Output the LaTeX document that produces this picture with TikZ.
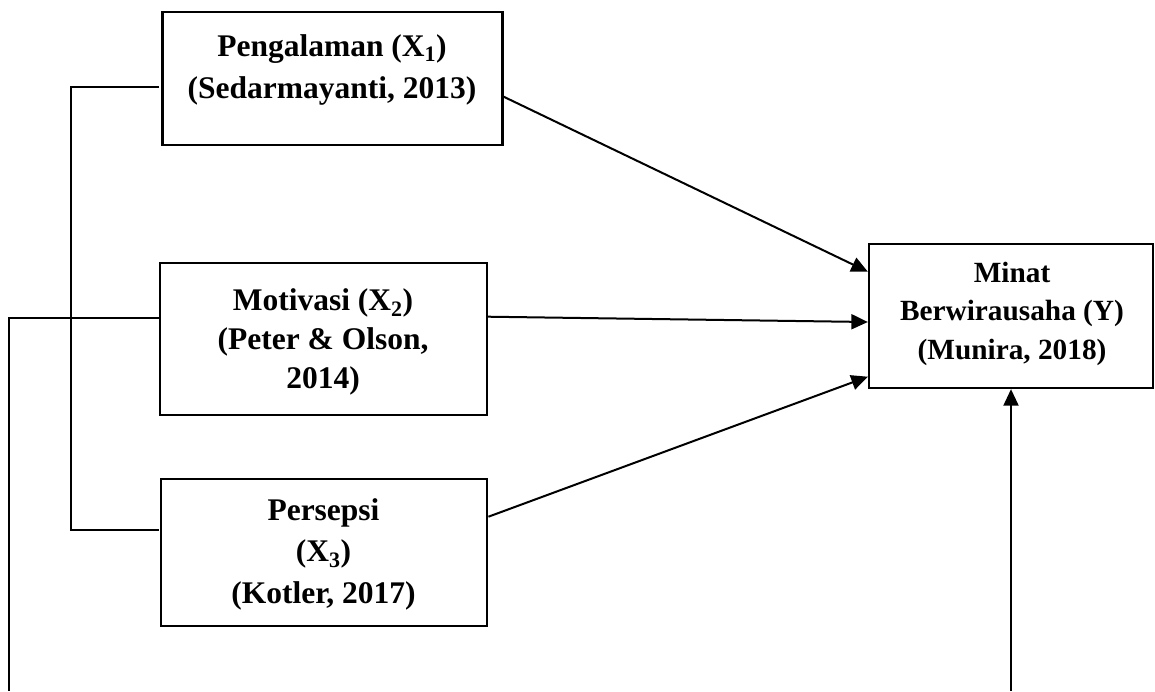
\documentclass[tikz,border=0pt]{standalone}
\usepackage{fontspec}
\setmainfont{Liberation Serif}
\usetikzlibrary{arrows.meta}
\begin{document}
\begin{tikzpicture}[x=1pt,y=-1pt,line width=2pt,
  box/.style={draw,line width=2.3pt,inner sep=0pt},
  txt/.style={anchor=base,inner sep=0pt,font=\fontsize{31.5}{40}\selectfont\bfseries},
  ytxt/.style={anchor=base,inner sep=0pt,font=\fontsize{29.3}{40}\selectfont\bfseries},
  arr/.style={-{Triangle[length=16.5pt,width=15pt]}}]
\useasboundingbox (0,0) rectangle (1155,691);
% boxes
\node[box,minimum width=340pt,minimum height=133.3pt] (x1) at (332.5,78.35) {};
\node[box,minimum width=326.7pt,minimum height=152.3pt] (x2) at (323.35,338.85) {};
\node[box,minimum width=326.6pt,minimum height=146.7pt] (x3) at (324,552.35) {};
\node[box,minimum width=284pt,minimum height=144pt] (y) at (1011,316) {};
% texts
\node[txt] (t1a) at (332,56) {Pengalaman (X\textsubscript{1})};
\node[txt] (t1b) at (332,98) {(Sedarmayanti, 2013)};
\node[txt] (t2a) at (323,310) {Motivasi (X\textsubscript{2})};
\node[txt] (t2b) at (323,349) {(Peter \& Olson,};
\node[txt] (t2c) at (323,388) {2014)};
\node[txt] (t3a) at (323.5,520) {Persepsi};
\node[txt] (t3b) at (323.5,561.5) {(X\textsubscript{3})};
\node[txt] (t3c) at (323.5,603) {(Kotler, 2017)};
\node[ytxt] (ya) at (1012,282) {Minat};
\node[ytxt] (yb) at (1012,320.5) {Berwirausaha (Y)};
\node[ytxt] (yc) at (1012,359.5) {(Munira, 2018)};
% bracket coordinates
\coordinate (b1) at (159,86.7);
\coordinate (b2) at (71,86.7);
\coordinate (b3) at (71,530);
\coordinate (b4) at (159,530);
\coordinate (o1) at (159,318.3);
\coordinate (o2) at (9.3,318.3);
\coordinate (o3) at (9.3,691);
\coordinate (r1) at (y.south |- 0,691);
\draw (b1) -- (b2) -- (b3) -- (b4);
\draw (o1) -- (o2) -- (o3);
% arrows
\draw[arr] (x1.east |- 0,96.7) -- (y.west |- 0,271.7);
\draw[arr] (x2.east |- 0,316.7) -- (y.west |- 0,322);
\draw[arr] (x3.east |- 0,516.7) -- (y.west |- 0,376.7);
\draw[arr] (r1) -- (y.south);
\end{tikzpicture}
\end{document}
